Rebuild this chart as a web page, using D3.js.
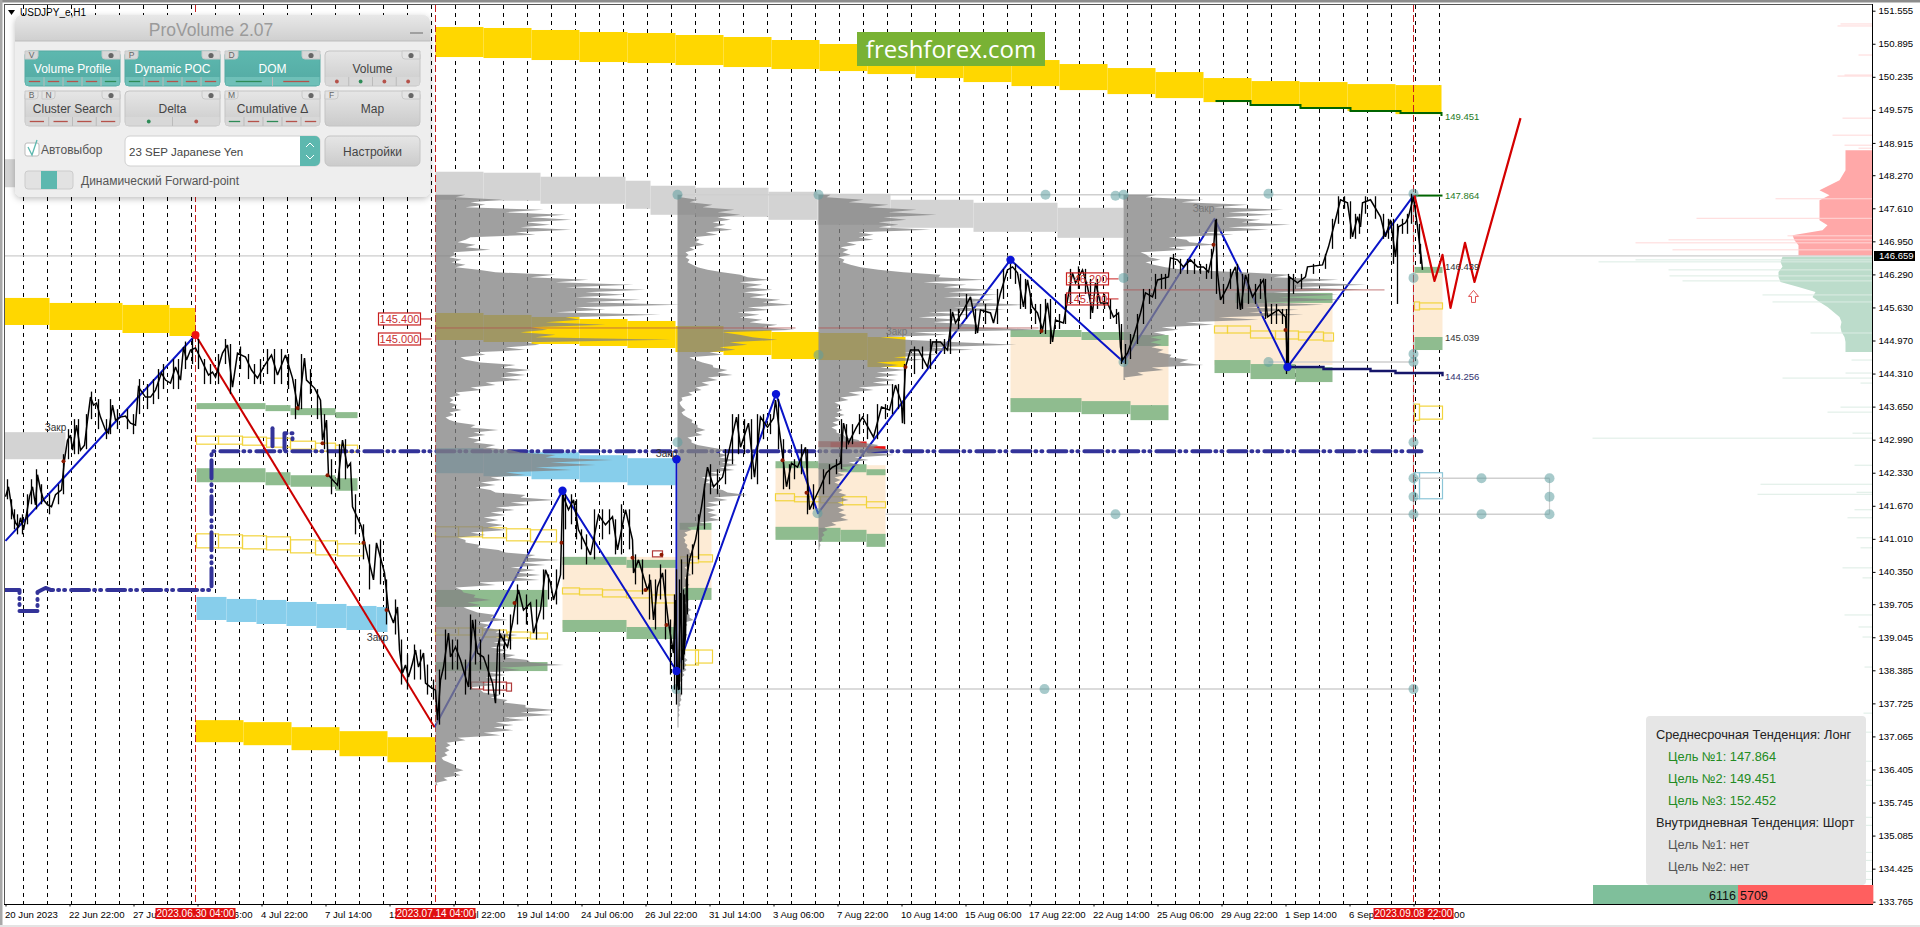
<!DOCTYPE html>
<html><head><meta charset="utf-8">
<script src="https://cdn.jsdelivr.net/npm/d3@7"></script>
<style>html,body{margin:0;background:#fff;overflow:hidden}svg{display:block;font-family:"Liberation Sans",Arial,sans-serif}</style>
</head><body><svg id="c" width="1920" height="927"></svg>
<script>
// ---------- axis data
const priceTicks=[151.555,150.895,150.235,149.575,148.915,148.270,147.610,146.950,146.290,145.630,144.970,144.310,143.650,142.990,142.330,141.670,141.010,140.350,139.705,139.045,138.385,137.725,137.065,136.405,135.745,135.085,134.425,133.765];
const timeBars=[0,64,128,192,256,320,384,448,512,576,640,704,768,832,896,960,1024,1088,1152,1216,1280,1344,1408];
const timeLabels=["20 Jun 2023","22 Jun 22:00","27 Jun 14:00","30 Jun 06:00","4 Jul 22:00","7 Jul 14:00","12 Jul 06:00","14 Jul 22:00","19 Jul 14:00","24 Jul 06:00","26 Jul 22:00","31 Jul 14:00","3 Aug 06:00","7 Aug 22:00","10 Aug 14:00","15 Aug 06:00","17 Aug 22:00","22 Aug 14:00","25 Aug 06:00","29 Aug 22:00","1 Sep 14:00","6 Sep 06:00","8 Sep 22:00"];
const markedBars=[190,430,1408];
const markedLabels=["2023.06.30 04:00","2023.07.14 04:00","2023.09.08 22:00"];
const currentPrice=146.659;
// ---------- price series (bar index, price)
const priceBars=[0,3,5,7,10,13,15,18,20,24,27,30,32,35,38,42,46,50,56,59,62,65,67,71,75,79,82,85,88,91,95,100,103,107,110,115,120,125,130,133,140,145,150,156,160,165,170,175,178,181,185,190,195,203,207,210,217,222,227,232,240,246,252,258,266,272,280,287,293,299,301,309,315,317,321,323,332,337,342,345,347,356,360,368,371,379,383,388,392,394,397,400,403,407,410,413,418,420,425,430,432,435,438,443,445,450,455,463,467,472,478,487,490,492,495,502,507,510,513,518,525,528,535,540,545,548,555,557,563,568,573,578,585,593,600,607,612,620,627,628,633,642,645,648,652,657,663,668,670,672,673,675,677,680,681,684,690,696,702,708,717,723,731,735,743,749,755,762,768,770,776,781,786,792,800,804,815,821,827,835,838,843,851,857,868,876,884,890,896,897,900,905,913,922,927,935,942,947,950,957,965,968,972,975,985,988,995,1002,1007,1012,1018,1022,1027,1032,1037,1042,1047,1050,1058,1062,1067,1070,1077,1082,1087,1090,1095,1102,1108,1113,1115,1117,1122,1128,1135,1140,1147,1152,1163,1165,1172,1178,1185,1192,1198,1203,1208,1210,1212,1215,1222,1227,1230,1235,1240,1247,1253,1258,1262,1268,1273,1280,1282,1284,1292,1300,1302,1317,1323,1330,1335,1342,1347,1352,1355,1357,1365,1375,1380,1385,1390,1393,1400,1403,1408,1412,1416,1417];
const priceVals=[141.85,142.05,141.79,141.53,141.33,141.25,141.43,141.19,141.39,141.85,142.05,141.69,142.29,141.99,141.79,141.69,141.65,141.89,141.99,142.59,142.98,143.08,142.78,143.28,142.78,142.88,143.38,143.84,143.68,143.72,143.44,143.18,143.12,143.68,143.38,143.44,143.46,143.32,143.28,144.04,143.84,143.84,143.98,144.32,144.18,144.12,144.44,144.18,144.84,144.58,144.78,144.82,144.62,144.28,144.34,144.24,144.72,144.88,144.04,144.72,144.64,144.38,144.22,144.44,144.68,144.28,144.68,144.22,143.58,144.62,144.18,144.02,143.78,142.98,143.38,142.28,142.08,142.98,142.44,142.52,141.65,141.25,140.85,140.19,140.93,140.33,139.59,139.33,139.65,138.79,138.33,138.49,138.25,138.53,138.79,138.45,138.73,138.13,138.05,137.99,137.39,138.19,138.45,139.13,138.65,138.85,138.59,138.05,139.39,138.73,138.65,138.13,137.73,138.85,139.09,138.85,139.33,139.73,139.99,139.59,139.73,139.13,139.59,140.39,140.13,139.79,140.29,141.89,141.59,141.79,141.19,140.99,140.69,141.49,141.29,141.45,140.79,141.59,140.99,140.33,140.59,139.99,140.19,139.39,140.05,140.33,139.33,138.73,139.79,138.13,137.99,139.93,138.59,139.05,140.19,140.59,140.99,141.65,142.44,142.05,142.24,142.72,143.44,142.84,143.32,142.24,143.44,143.24,143.42,143.78,142.84,142.05,142.52,142.44,142.84,141.59,142.05,142.33,142.44,142.52,143.32,142.92,143.24,143.44,143.04,143.64,143.58,144.08,143.72,143.32,144.44,144.78,144.78,144.44,144.94,144.94,144.78,145.54,145.32,145.54,145.84,145.52,145.12,145.58,145.52,145.32,145.92,146.38,146.44,146.32,145.64,146.18,145.64,145.52,145.18,145.72,144.94,145.38,145.32,145.78,146.32,146.12,146.38,146.04,145.52,146.12,145.72,145.72,145.44,145.52,144.84,144.58,144.72,145.04,145.52,145.92,145.84,146.18,146.24,146.62,146.58,146.44,146.58,146.44,146.44,146.34,146.78,147.38,146.32,145.78,146.04,146.32,146.44,145.58,146.28,145.84,146.04,146.18,145.44,145.52,145.58,145.44,144.44,146.24,146.12,146.24,146.44,146.48,146.84,147.38,147.78,147.72,147.04,147.44,147.24,147.72,147.78,147.44,147.04,147.38,146.64,147.24,147.32,147.44,147.84,147.24,146.58,146.38];
// bar ranges read between the points above
const wickBars=[2,6,9,12,17,22,26,31,36,44,53,58,63,69,73,81,86,93,101,105,112,122,128,134,142,148,153,158,168,173,180,187,193,199,205,213,220,225,235,243,249,255,262,269,276,283,290,296,305,312,319,326,334,340,350,358,364,375,381,390,396,402,409,415,422,428,434,440,447,452,460,465,470,475,483,494,499,505,512,521,531,538,543,551,558,560,566,571,576,581,589,597,604,610,616,624,630,637,644,650,655,660,665,669,671,674,676,678,679,682,687,693,699,705,712,720,727,733,739,746,752,758,765,773,778,784,789,796,802,808,818,824,831,836,841,847,854,862,872,880,887,893,899,909,917,925,931,939,945,953,961,970,980,992,998,1005,1010,1015,1020,1025,1030,1035,1040,1045,1054,1060,1065,1073,1080,1085,1092,1099,1105,1111,1116,1120,1125,1132,1138,1144,1150,1156,1160,1168,1175,1182,1189,1195,1201,1206,1211,1218,1225,1232,1237,1243,1250,1255,1260,1266,1271,1277,1281,1283,1288,1296,1308,1320,1327,1333,1339,1345,1350,1354,1360,1370,1378,1383,1388,1392,1397,1402,1406,1414,1415];
const wickHigh=[142.2,141.8,141.6,141.5,141.5,141.9,142.2,142.4,142.1,141.9,142.1,142.7,143.2,143.4,143.4,143.5,143.95,143.8,143.4,143.8,143.6,143.6,143.5,144.2,144.1,144.2,144.4,144.5,144.6,144.6,144.95,145.0,145.0,144.6,144.5,144.7,145.0,144.9,144.85,144.7,144.5,144.6,144.8,144.8,144.8,144.7,144.2,144.7,144.4,144.0,143.5,142.6,142.9,143.0,141.9,141.3,140.9,141.0,140.2,139.8,139.0,138.7,138.9,138.8,138.5,138.2,138.4,139.2,139.0,139.0,138.6,139.5,139.4,139.0,138.7,139.2,139.1,139.5,140.1,139.9,139.8,140.4,140.3,140.4,142.0,141.9,141.9,141.8,141.2,141.1,141.6,141.6,141.6,141.4,141.7,141.6,140.7,140.6,140.3,140.2,140.5,140.4,139.4,139.9,140.4,140.2,140.6,140.0,139.9,140.7,140.9,141.5,142.1,142.5,142.4,142.8,143.5,143.5,143.4,143.4,143.5,143.5,143.5,143.8,143.0,142.5,142.6,142.9,142.8,142.1,142.4,142.5,142.6,143.4,143.3,143.3,143.5,143.5,143.7,143.7,144.1,144.1,144.5,144.85,144.85,145.0,145.0,145.0,145.6,145.6,145.9,145.6,145.7,146.0,146.4,146.5,146.5,146.3,146.2,145.9,145.7,145.7,145.8,145.8,145.5,145.9,146.4,146.45,146.4,146.2,146.2,145.9,145.8,145.6,145.3,144.9,145.1,145.5,146.0,146.0,146.3,146.3,146.3,146.7,146.6,146.6,146.6,146.5,146.5,146.8,147.4,146.1,146.4,146.5,146.3,146.3,146.1,146.2,146.2,145.7,145.7,145.6,145.6,146.3,146.3,146.3,146.5,146.7,147.4,147.85,147.85,147.75,147.5,147.5,147.85,147.85,147.5,147.4,147.4,147.3,147.4,147.5,147.9,147.3,146.9];
const wickLow=[141.8,141.4,141.2,141.1,141.1,141.3,141.7,141.6,141.7,141.5,141.7,141.9,142.6,142.7,142.7,142.8,143.4,143.2,143.0,143.1,143.2,143.2,143.1,143.5,143.6,143.7,143.8,144.0,144.0,144.0,144.4,144.5,144.4,144.1,144.1,144.1,144.5,143.9,144.4,144.2,144.1,144.1,144.3,144.1,144.1,144.0,143.4,143.6,143.9,143.4,142.8,141.9,142.0,142.2,141.1,140.6,140.0,140.1,139.3,139.1,138.1,138.0,138.2,138.2,137.9,137.8,137.3,138.2,138.4,138.4,137.9,138.0,138.5,138.4,137.9,137.9,138.6,138.8,139.3,139.3,139.0,139.4,139.8,139.7,140.2,141.2,141.3,141.0,140.8,140.5,140.6,141.0,141.1,140.7,140.7,140.8,140.1,139.9,139.4,139.2,139.8,139.0,138.3,138.0,137.7,138.0,137.9,138.4,138.7,139.5,140.3,140.6,141.2,141.9,141.9,142.1,142.5,142.7,142.7,142.2,142.1,143.0,143.1,142.8,142.0,142.0,142.2,142.3,141.5,141.6,141.9,142.1,142.3,142.4,142.8,142.9,143.1,143.0,143.0,143.4,143.5,143.6,143.3,144.3,144.4,144.4,144.7,144.7,144.7,145.2,145.4,145.1,145.3,145.3,145.8,146.2,146.1,145.6,145.6,145.5,145.3,145.1,145.1,144.9,145.2,145.3,145.7,146.0,145.9,145.4,145.6,145.6,145.4,145.3,144.5,144.5,144.6,144.9,145.3,145.7,145.8,146.0,146.0,146.4,146.3,146.3,146.3,146.3,146.2,146.2,145.9,145.7,146.0,145.6,145.6,145.7,145.7,145.8,145.4,145.3,145.3,145.3,144.3,144.4,145.9,146.0,146.3,146.4,146.8,147.3,147.6,147.0,147.0,147.1,147.5,147.4,147.0,147.0,146.5,145.7,147.1,147.1,147.3,146.7,146.5];
// ---------- zigzag
const zigBlueA=[[0,140.97],[190,145.08]];
const zigRed=[[190,145.08],[429,137.25]];
const zigBlueB=[[429,137.25],[557,141.97],[671,138.37],[770.5,143.90],[812.5,141.52],[1005,146.58],[1118,144.54],[1209,147.40],[1282,144.44],[1408,147.864]];
const zigBlueC=[[671,138.37],[671,142.60]];
const forecast=[[1409,147.864],[1429,146.16],[1437,146.68],[1445,145.62],[1459.5,146.92],[1469,146.14],[1515,149.41]];
const blueDots=[[557,141.97],[671,142.60],[671,138.37],[770.5,143.90],[1005,146.58],[1282,144.44]];
const redDots=[[190,145.08]];
const smallDots=[[58,142.56],[292,143.62],[317,142.92],[322,142.28],[358,140.93],[381,139.59],[556,140.93],[509,139.73],[627,140.63],[900,144.44],[777,142.58],[801,141.93],[1036,145.16],[640,139.99],[656,140.69],[661,139.29],[1208,146.88],[1280,145.18]];
const tealDots=[[672,147.88],[813,147.88],[1040,147.88],[1110,147.86],[1118,147.88],[1263,147.90],[1408,147.90],[813,144.68],[1118,146.22],[1408,146.22],[1263,144.54],[1408,144.70],[1408,144.54],[672,142.94],[812,141.52],[1110,141.50],[671,138.01],[1039,138.01],[1408,142.94],[1408,142.22],[1476,142.22],[1544,142.22],[1408,141.85],[1544,141.85],[1408,141.50],[1476,141.50],[1544,141.50],[1408,138.01],[1118,144.54]];
// ---------- stepped bands: edges, tops, bottoms
const goldTopEdges=[430,478,526,574,622,670,718,766,814,862,910,958,1006,1054,1102,1150,1198,1246,1294,1342,1390,1436];
const goldTopHi=[151.23,151.21,151.17,151.13,151.11,151.07,151.03,150.97,150.89,150.81,150.73,150.65,150.57,150.49,150.41,150.33,150.21,150.15,150.13,150.09,150.07];
const goldTopLo=[150.63,150.61,150.57,150.53,150.51,150.47,150.43,150.39,150.35,150.29,150.21,150.13,150.05,149.97,149.89,149.81,149.73,149.67,149.61,149.55,149.49];
const goldMidEdges=[430,478,526,574,622,670,718,766,814,862,900];
const goldMidHi=[145.52,145.48,145.44,145.40,145.36,145.26,145.18,145.14,145.12,145.04];
const goldMidLo=[144.98,144.94,144.90,144.86,144.82,144.74,144.68,144.60,144.58,144.44];
const goldLeftEdges=[-1,44,117,164,190];
const goldLeftHi=[145.82,145.72,145.68,145.62];
const goldLeftLo=[145.28,145.18,145.12,145.06];
const goldLowEdges=[190,238,286,334,382,430];
const goldLowHi=[137.39,137.35,137.25,137.17,137.05];
const goldLowLo=[136.95,136.89,136.79,136.67,136.55];
const grayTopEdges=[430,478,535,620,645,690,763,812,885,968,1052,1118];
const grayTopHi=[148.34,148.32,148.24,148.16,148.06,148.02,147.94,147.90,147.78,147.72,147.62];
const grayTopLo=[147.78,147.76,147.70,147.60,147.48,147.44,147.38,147.28,147.22,147.14,147.02];
const blueLowEdges=[191,221,251,281,311,341,371,382];
const blueLowHi=[139.85,139.81,139.79,139.75,139.71,139.67,139.65];
const blueLowLo=[139.39,139.35,139.31,139.27,139.23,139.19,139.15];
const blueMidEdges=[430,478,526,574,622,670];
const blueMidHi=[142.82,142.78,142.74,142.68,142.62];
const blueMidLo=[142.32,142.26,142.20,142.14,142.08];
// ---------- zones [bar0,bar1,priceTop,priceBottom]
const grayBoxes=[[-1,190,148.59,148.03],[-1,60,143.14,142.60]];
const peachBoxes=[[557,671,140.65,139.23],[671,706,141.19,139.99],[770,880,142.48,141.09],[1005,1163,145.08,143.68],[1209,1327,145.78,144.48],[1409,1437,146.38,144.98]];
const greenBoxes=[[191,260,143.72,143.60],[260,285,143.68,143.56],[285,330,143.62,143.48],[330,352,143.54,143.42],[191,260,142.42,142.14],[260,285,142.34,142.08],[285,330,142.28,142.05],[330,352,142.22,141.97],[430,542,139.99,139.65],[430,542,138.55,138.37],[557,621,140.65,140.49],[621,671,140.59,140.43],[557,621,139.39,139.15],[621,671,139.25,139.01],[674,706,141.33,141.19],[676,706,140.03,139.79],[770,813,142.56,142.42],[813,835,142.52,142.40],[835,861,142.50,142.34],[861,880,142.40,142.28],[770,813,141.25,140.99],[813,835,141.23,140.95],[835,861,141.19,140.95],[861,880,141.11,140.85],[1005,1076,145.18,145.04],[1076,1125,145.14,144.98],[1125,1163,145.08,144.86],[1005,1076,143.82,143.54],[1076,1125,143.76,143.50],[1125,1163,143.68,143.38],[1230,1327,145.92,145.72],[1209,1245,144.58,144.32],[1245,1290,144.50,144.20],[1290,1327,144.44,144.14],[1409,1437,146.44,146.32],[1409,1437,145.04,144.78]];
const yellowBoxes=[[191,213,143.06,142.90],[213,237,143.06,142.90],[237,261,143.04,142.88],[261,285,143.02,142.84],[285,310,142.96,142.80],[310,330,142.92,142.76],[330,352,142.88,142.74],[191,213,141.11,140.83],[213,237,141.09,140.83],[237,261,141.07,140.81],[261,285,141.05,140.79],[285,310,140.99,140.73],[310,332,140.97,140.69],[332,358,140.91,140.67],[430,453,141.25,141.05],[453,477,141.25,141.05],[477,501,141.23,141.03],[501,525,141.21,140.97],[525,551,141.19,140.95],[430,453,139.23,139.09],[453,477,139.23,139.09],[477,501,139.19,139.05],[502,525,139.15,139.03],[525,542,139.13,139.01],[557,574,140.03,139.91],[574,597,140.01,139.89],[597,621,139.99,139.85],[621,646,139.97,139.83],[646,670,139.89,139.73],[673,693,138.79,138.49],[690,707,138.79,138.53],[675,693,140.65,140.53],[693,707,140.69,140.55],[770,789,141.91,141.77],[789,815,141.85,141.75],[815,837,141.85,141.73],[837,861,141.85,141.69],[861,880,141.75,141.63],[1209,1222,145.26,145.12],[1222,1245,145.26,145.12],[1245,1270,145.16,145.02],[1270,1293,145.16,145.00],[1293,1318,145.14,144.98],[1318,1328,145.12,144.96],[1409,1414,145.74,145.58],[1414,1437,145.72,145.60],[1409,1414,143.70,143.38],[1414,1437,143.66,143.40]];
const skyOutline=[[1409,1414,142.33,141.81],[1414,1437,142.33,141.81]];
const darkRedBoxes=[[466,478,138.15,138.01],[478,501,138.15,137.99],[501,506,138.13,137.97],[647,657,140.77,140.65]];
const redPale=[[813,861,142.96,142.84]];
const redSolid=[[825,861,142.94,142.84],[861,880,142.86,142.74]];
// ---------- lines
const dashDot=[[-1,139.99],[14,139.99],[14,139.57],[32,139.57],[32,139.95],[40,140.03],[45,139.99],[206,139.99],[206,142.76],[1416,142.76]];
const dashDotB=[[267,143.22],[267,142.80]];
const dashDotC=[[279,142.80],[279,143.12],[287,143.12],[287,143.00]];
const greenTargetBars=[1210,1245,1295,1345,1395,1436];
const greenTargetVals=[149.75,149.67,149.61,149.55,149.51,149.451];
const greenTarget2=[[1409,147.864],[1437,147.864]];
const navyLineBars=[1282,1318,1365,1390,1437];
const navyLineVals=[144.44,144.40,144.36,144.32,144.256];
const grayLevels=[[672,1409,147.88],[880,1544,141.50],[671,1408,138.01],[1408,1544,142.22],[1263,1408,144.54]];
const brownLevels=[[430,790,145.22],[813,1033,145.22],[1118,1379,145.98]];
const priceFlags=[145.400,145.000,146.200,145.800];
const flagBars=[373,373,1061,1061];
const flagEnds=[426,426,1113,1113];
const levelLabels=[149.451,147.864,146.439,145.039,144.256];
const levelColors=["#1f7a1f","#1f7a1f","#333","#333","#33336f"];
const closeLabelBars=[50,372,661,891,1198];
const closeLabelVals=[143.16,138.97,142.64,145.08,147.54];
// ---------- volume profiles (levels one step apart, top down)
const levelStep=0.04995;
const volStart=147.88;
const volA=[30,20,67,35,50,30,108,70,130,95,136,90,115,85,136,80,100,35,30,22,40,30,55,18,20,14,26,16,30,20,43,60,120,95,153,120,198,130,210,150,190,140,205,150,245,140,170,120,225,130,145,110,170,95,112,85,120,100,235,90,104,70,90,40,50,25,30,45,80,65,95,70,90,65,87,50,60,35,46,20,25,14,18,14,22,16,26,14,18,10,14,22,40,35,63,38,50,32,46,38,60,50,75,85,120,110,177,115,160,100,136,70,90,55,67,45,60,40,55,60,90,85,120,75,95,60,79,55,70,48,63,50,68,52,71,35,50,22,30,30,45,42,63,70,100,90,124,85,110,75,100,80,105,78,104,42,60,20,26,28,40,38,55,32,45,28,35,42,60,55,72,42,55,48,65,60,82,60,78,58,76,55,72,60,80,70,92,95,128,65,85,52,70,50,65,45,60,32,45,48,65,55,72,68,90,90,120,85,117,68,90,60,78,58,78,48,65,22,30,11,15,10,14,9,12,6,8,14,20,20,28,18,25,8,12,1,2];
const volB=[5,3,20,12,35,25,57,40,63,40,53,35,48,36,55,28,40,16,22,18,27,12,17,8,11,8,12,10,15,20,30,45,63,70,92,62,85,68,95,66,90,72,103,85,115,70,92,60,82,62,85,72,100,85,117,45,62,75,100,52,70,42,58,32,45,12,17,25,35,36,50,40,55,30,40,24,32,18,24,11,15,4,5,2,3,5,8,4,6,10,15,14,20,20,28,18,25,10,14,14,20,34,48,38,50,42,58,44,60,42,57,32,45,24,33,28,38,32,45,50,70,36,50,30,42,28,38,30,40,32,43,22,30,10,14,7,10,6,8,7,10,9,12,12,16,11,15,9,12,7,10,10,14,7,9,9,12,6,8,7,10,9,12,7,9,10,14,9,12,12,16,7,10,6,8,7,10,5,7,7,9,4,6,6,8,7,10,7,9,7,9,5,7,4,5,2,3,1,2,3,4,3,4,2,3,1,2,1,2,1,1,1,1,1];
const volC=[12,8,45,30,70,50,98,70,118,65,88,60,80,60,112,40,55,40,55,28,38,22,30,24,32,20,26,24,32,42,60,85,122,120,168,105,148,125,175,130,180,125,175,150,208,135,188,110,152,100,142,115,160,160,222,95,130,62,88,140,198,110,155,85,120,75,105,58,80,62,88,58,80,56,78,54,75,40,55,30,42,22,30,16,22,18,24,18,26,16,22,14,20,13,18,18,25,28,40,42,60,55,75,52,75,36,50,30,42,22,30,19,26,16,22,16,22,18,24,20,28,22,30,19,26,19,26,20,28,22,30,13,18,6,9,4,6,3,4,1,2,1,1];
const volD=[33,22,80,58,125,90,160,105,150,100,137,118,167,105,145,78,110,45,63,66,93,45,63,17,23,26,37,22,30,42,60,118,167,150,215,170,243,170,240,150,215,155,220,140,200,122,175,125,180,95,135,62,90,38,55,30,42,27,38,27,38,28,40,34,48,46,65,56,80,28,40,14,20,1,2];
const profileBases=[430,672,813,1118];
// ---------- depth of market
const domStep=0.0999;
const domBase=1867;
const pinkStart=148.77;
const pinkVols=[27,27,27,27,27,30,33,43,53,43,53,53,53,53,53,45,50,80,78,74,74];
const mintStart=146.64;
const mintVols=[90,92,90,94,94,92,74,57,60,53,45,39,33,31,32,31,28,27,27];
const pinkSpikes=[[151.29,32],[151.25,35],[150.67,14],[150.27,28],[150.25,35],[149.41,30],[149.07,40],[148.87,28],[148.81,14],[147.80,97],[147.41,176],[147.06,85],[146.98,204],[146.92,237],[146.78,200]];
const mintSpikes=[[146.58,237],[146.54,274],[146.38,204],[146.26,203],[146.16,190],[145.88,110],[145.74,100],[145.12,62],[144.58,21],[144.32,27],[144.22,90],[144.12,12],[143.64,32],[143.54,45],[143.02,280],[143.12,20],[142.48,18],[142.10,112],[141.90,115],[141.94,16],[141.59,18],[141.43,25],[141.03,16],[140.83,12],[140.43,30],[140.23,10],[139.49,28],[139.25,14],[139.05,10],[138.45,8],[137.53,9],[137.15,7],[136.57,25],[136.09,134],[136.19,7],[135.45,7],[135.29,7],[134.75,7],[134.59,7],[134.37,8],[134.21,10]];
const buyVolume=6116, sellVolume=5709;
// ---------- side panel text
const trendRows=["Среднесрочная Тенденция: Лонг","Цель №1: 147.864","Цель №2: 149.451","Цель №3: 152.452","Внутридневная Тенденция: Шорт","Цель №1: нет","Цель №2: нет"];
const trendKinds=[0,1,1,1,0,2,2];
// ---------- tool panel
const btnRow1=["Volume Profile","Dynamic POC","DOM","Volume"];
const btnRow2=["Cluster Search","Delta","Cumulative Δ","Map"];
const btnKeys1=[["V"],["P"],["D"],[]];
const btnKeys2=[["B","N"],[],["M"],["F"]];
const btnOn1=[1,1,1,0];
const g1="#2e8b57",r1="#b5524a";
const btnMarks1=[["d",[r1,r1,r1,r1,g1]],["d",[g1,r1,r1,r1,r1]],["d",[g1,r1]],["o",[r1,g1,r1,r1]]];
const btnMarks2=[["d",[r1,r1,r1,r1]],["o",[g1,r1]],["d",[g1,r1,g1,r1,r1]],["n",[]]];

// ---------- scales
const x=d3.scaleLinear().domain([0,1868]).range([5.5,1873.5]);
const y=d3.scaleLinear().domain([151.555,133.765]).range([10.7,901.7]);
const svg=d3.select("#c");
const clip=svg.append("defs").append("clipPath").attr("id","plot").append("rect").attr("x",5).attr("y",5).attr("width",1867).attr("height",899);
const plot=svg.append("g").attr("clip-path","url(#plot)");
const line=d3.line().x(d=>x(d[0])).y(d=>y(d[1]));
const boxes=(data,fill,stroke,sw,op)=>plot.append("g").selectAll("rect").data(data).join("rect")
 .attr("x",d=>x(d[0])).attr("width",d=>x(d[1])-x(d[0])).attr("y",d=>y(d[2])).attr("height",d=>y(d[3])-y(d[2]))
 .attr("fill",fill).attr("stroke",stroke||"none").attr("stroke-width",sw||0).attr("opacity",op==null?1:op);
const stepBand=(edges,hi,lo,fill)=>{const rows=hi.map((h,i)=>[edges[i],edges[i+1],h,lo[i]]);boxes(rows,fill);};

// day separators
const separators=d3.range(0,60).map(i=>18+24*i);
plot.append("g").selectAll("line").data(separators).join("line").attr("x1",d=>x(d)).attr("x2",d=>x(d)).attr("y1",5).attr("y2",904).attr("stroke","#000").attr("stroke-dasharray","4,4");

stepBand(goldTopEdges,goldTopHi,goldTopLo,"#FFD700");
stepBand(goldMidEdges,goldMidHi,goldMidLo,"#FFD700");
stepBand(goldLeftEdges,goldLeftHi,goldLeftLo,"#FFD700");
stepBand(goldLowEdges,goldLowHi,goldLowLo,"#FFD700");
stepBand(grayTopEdges,grayTopHi,grayTopLo,"#D3D3D3");
boxes(grayBoxes,"#D3D3D3");
stepBand(blueLowEdges,blueLowHi,blueLowLo,"#87CEEB");
stepBand(blueMidEdges,blueMidHi,blueMidLo,"#87CEEB");
boxes(peachBoxes,"#FDEBD5");
boxes(greenBoxes,"#8FBC8F");
boxes(yellowBoxes,"none","#F2D43C",1.2);
boxes(skyOutline,"none","#8CC6D8",1.2);
boxes(darkRedBoxes,"none","#B03A3A",1.2);
boxes(redPale,"#D86A6A");
boxes(redSolid,"#EE1111");

// level lines
plot.append("g").selectAll("line").data(grayLevels).join("line").attr("x1",d=>x(d[0])).attr("x2",d=>x(d[1])).attr("y1",d=>y(d[2])).attr("y2",d=>y(d[2])).attr("stroke","#CFCFCF").attr("stroke-width",1.5);
plot.append("line").attr("x1",x(1408)).attr("x2",x(1408)).attr("y1",y(147.88)).attr("y2",y(141.5)).attr("stroke","#BDBDBD").attr("stroke-width",1.2);
plot.append("line").attr("x1",x(1544)).attr("x2",x(1544)).attr("y1",y(142.22)).attr("y2",y(141.5)).attr("stroke","#CFCFCF").attr("stroke-width",1.2);
plot.append("line").attr("x1",0).attr("x2",1872).attr("y1",y(currentPrice)).attr("y2",y(currentPrice)).attr("stroke","#C0C0C0");

// red time marks
plot.append("g").selectAll("line").data(markedBars).join("line").attr("x1",d=>x(d)).attr("x2",d=>x(d)).attr("y1",5).attr("y2",904).attr("stroke","#C81E1E").attr("stroke-dasharray","7,3");

// zigzags and dash-dot, under profiles
const path=(d,stroke,w,dash,cap)=>plot.append("path").attr("d",line(d)).attr("fill","none").attr("stroke",stroke).attr("stroke-width",w).attr("stroke-dasharray",dash||null).attr("stroke-linecap",cap||null).attr("stroke-linejoin","round");
[dashDot,dashDotB,dashDotC].forEach(d=>path(d,"#333399",4,"18,5,1,5,1,6","round"));
[zigBlueA,zigBlueB,zigBlueC].forEach(d=>path(d,"#0A14C8",2));
path(zigRed,"#CC0000",2);
// stepped target lines
const stepLine=d3.line().curve(d3.curveStepAfter).x(d=>x(d[0])).y(d=>y(d[1]));
plot.append("path").attr("d",stepLine(greenTargetBars.map((b,i)=>[b,greenTargetVals[i]]))).attr("fill","none").attr("stroke","#006400").attr("stroke-width",2);
path(greenTarget2,"#006400",2);
plot.append("path").attr("d",stepLine(navyLineBars.map((b,i)=>[b,navyLineVals[i]]))).attr("fill","none").attr("stroke","#16166A").attr("stroke-width",2.4);

// volume profiles
const profArea=(vols,base)=>{
 const pts=vols.map((v,i)=>[v,volStart-levelStep*i]);
 plot.append("path").datum(pts).attr("d",d3.area().y(d=>y(d[1])).x0(x(base)).x1(d=>x(base+d[0])))
  .attr("fill","rgb(131,131,131)").attr("opacity",.765);
};
[volA,volB,volC,volD].forEach((v,i)=>profArea(v,profileBases[i]));

plot.append("g").selectAll("line").data(brownLevels).join("line").attr("x1",d=>x(d[0])).attr("x2",d=>x(d[1])).attr("y1",d=>y(d[2])).attr("y2",d=>y(d[2])).attr("stroke","#B05050").attr("opacity",.75);

// teal markers
plot.append("g").selectAll("circle").data(tealDots).join("circle").attr("cx",d=>x(d[0])).attr("cy",d=>y(d[1])).attr("r",5).attr("fill","#5F9EA0").attr("opacity",.55);

// DOM
const domArea=(vols,start,fill)=>{
 const pts=vols.map((v,i)=>[v,start-domStep*i]);
 pts.push([vols[vols.length-1],start-domStep*vols.length]);
 plot.append("path").datum(pts).attr("d",d3.area().y(d=>y(d[1])).x0(x(domBase)).x1(d=>x(domBase-d[0]))).attr("fill",fill);
};
domArea(pinkVols,pinkStart,"#FFA8A8");
domArea(mintVols,mintStart,"#BCDCCB");
plot.append("g").selectAll("line").data(pinkSpikes).join("line").attr("x1",x(domBase)).attr("x2",d=>x(domBase-d[1])).attr("y1",d=>y(d[0])).attr("y2",d=>y(d[0])).attr("stroke","#FFD8D8");
plot.append("g").selectAll("line").data(mintSpikes).join("line").attr("x1",x(domBase)).attr("x2",d=>x(domBase-d[1])).attr("y1",d=>y(d[0])).attr("y2",d=>y(d[0])).attr("stroke","#DCECE4");

// price line and bar ranges
plot.append("path").datum(priceBars.map((b,i)=>[b,priceVals[i]])).attr("d",line).attr("fill","none").attr("stroke","#000").attr("stroke-width",1.5).attr("stroke-linejoin","miter").attr("stroke-miterlimit",3);
plot.append("g").selectAll("line").data(wickBars).join("line").attr("x1",d=>x(d)).attr("x2",d=>x(d)).attr("y1",(d,i)=>y(wickHigh[i])).attr("y2",(d,i)=>y(wickLow[i])).attr("stroke","#000").attr("stroke-width",1.3);

path(forecast,"#D40000",2.2);
plot.append("path").attr("transform",`translate(${x(1468)},${y(145.85)})`).attr("d","M0,-6L5,0L2,0L2,6L-2,6L-2,0L-5,0Z").attr("fill","#fff").attr("stroke","#E05050");

plot.append("g").selectAll("circle").data(smallDots).join("circle").attr("cx",d=>x(d[0])).attr("cy",d=>y(d[1])).attr("r",2).attr("fill","#8B1A00");
plot.append("g").selectAll("circle").data(blueDots).join("circle").attr("cx",d=>x(d[0])).attr("cy",d=>y(d[1])).attr("r",4.2).attr("fill","#0A14D8");
plot.append("g").selectAll("circle").data(redDots).join("circle").attr("cx",d=>x(d[0])).attr("cy",d=>y(d[1])).attr("r",4).attr("fill","#EE1111");

// flags
const flags=plot.append("g").selectAll("g").data(priceFlags).join("g");
flags.append("line").attr("x1",(d,i)=>x(flagBars[i]+40)).attr("x2",(d,i)=>x(flagEnds[i])).attr("y1",d=>y(d)).attr("y2",d=>y(d)).attr("stroke","#C81E1E");
flags.append("rect").attr("x",(d,i)=>x(flagBars[i])).attr("width",42).attr("y",d=>y(d)-6).attr("height",12).attr("fill",(d,i)=>i<2?"#fff":"none").attr("stroke","#C81E1E").attr("stroke-width",1.2);
flags.append("text").attr("x",(d,i)=>x(flagBars[i])+21).attr("y",d=>y(d)+4).attr("text-anchor","middle").attr("font-size",11).attr("fill","#C83232").text(d=>d.toFixed(3));

// level labels
plot.append("g").selectAll("text").data(levelLabels).join("text").attr("x",1445).attr("y",d=>y(d)+3.5).attr("font-size",9.5).attr("fill",(d,i)=>levelColors[i]).text(d=>d.toFixed(3));
plot.append("g").selectAll("text").data(closeLabelBars).join("text").attr("x",d=>x(d)).attr("y",(d,i)=>y(closeLabelVals[i])).attr("text-anchor","middle").attr("font-size",10).attr("fill",(d,i)=>i>2?"#777":"#333").text("Закр");

// logo
svg.append("rect").attr("x",857).attr("y",32).attr("width",188).attr("height",34).attr("fill","#79B234");
svg.append("text").attr("x",951).attr("y",58).attr("text-anchor","middle").attr("font-size",24).attr("fill","#fff").attr("font-family","'Open Sans','Liberation Sans',sans-serif").text("freshforex.com");

// frame
svg.append("rect").attr("x",0).attr("y",0).attr("width",1920).attr("height",2.5).attr("fill","#8C8C8C");
svg.append("rect").attr("x",0).attr("y",0).attr("width",2.5).attr("height",927).attr("fill","#A8A8A8");
svg.append("rect").attr("x",0).attr("y",925).attr("width",1920).attr("height",2).attr("fill","#E4E4E4");
svg.append("line").attr("x1",4.5).attr("x2",4.5).attr("y1",4).attr("y2",905).attr("stroke","#555");
svg.append("line").attr("x1",4).attr("x2",1873).attr("y1",4.5).attr("y2",4.5).attr("stroke","#555");

// axes
const yAxis=d3.axisRight(y).tickValues(priceTicks).tickSize(3).tickPadding(3).tickFormat(d=>d.toFixed(3));
const gy=svg.append("g").attr("transform","translate(1872.5,0)").call(yAxis);
gy.selectAll("text").attr("font-size",9.6).attr("font-family","'Liberation Sans'").attr("fill","#000");
gy.select(".domain").attr("stroke","#000").attr("d","M0,4V905");
const xAxis=d3.axisBottom(x).tickValues(timeBars).tickSize(2).tickPadding(5).tickFormat((d,i)=>timeLabels[i]);
const gx=svg.append("g").attr("transform","translate(0,904.5)").call(xAxis);
gx.selectAll("text").attr("font-size",9.6).attr("font-family","'Liberation Sans'").attr("text-anchor","start").attr("dx",-1).attr("fill","#000");
gx.select(".domain").attr("stroke","#000").attr("d","M4,0H1873");
svg.append("rect").attr("x",1874).attr("y",251).attr("width",41).attr("height",10).attr("fill","#000");
svg.append("text").attr("x",1879).attr("y",y(currentPrice)+3.5).attr("font-size",9.6).attr("fill","#fff").text(currentPrice.toFixed(3));

// marked dates
const mk=svg.append("g").selectAll("g").data(markedBars).join("g");
mk.append("rect").attr("x",d=>x(d)-40).attr("y",908).attr("width",80).attr("height",11).attr("fill","#E01010");
mk.append("text").attr("x",d=>x(d)).attr("y",917).attr("text-anchor","middle").attr("font-size",10).attr("fill","#fff").text((d,i)=>markedLabels[i]);

// volume bar & trend panel
const vol=d3.scaleLinear().domain([0,6116]).range([0,145]);
svg.append("rect").attr("x",1738-vol(buyVolume)).attr("y",885).attr("width",vol(buyVolume)).attr("height",19).attr("fill","#7FBF9B");
svg.append("rect").attr("x",1738).attr("y",885).attr("width",vol(sellVolume)).attr("height",19).attr("fill","#FF5F5F");
svg.append("text").attr("x",1736).attr("y",900).attr("text-anchor","end").attr("font-size",12.5).attr("fill","#111").text(buyVolume);
svg.append("text").attr("x",1740).attr("y",900).attr("font-size",12.5).attr("fill","#111").text(sellVolume);
svg.append("rect").attr("x",1646).attr("y",716).attr("width",220).attr("height",169).attr("rx",4).attr("fill","#E6E6E6");
svg.append("g").selectAll("text").data(trendRows).join("text").attr("x",(d,i)=>trendKinds[i]?1668:1656).attr("y",(d,i)=>738.5+22*i).attr("font-size",12.8).attr("fill",(d,i)=>["#222","#228B22","#555"][trendKinds[i]]).text(d=>d);

// tool panel
const defs=svg.select("defs");
const grad=(id,a,b)=>{const g=defs.append("linearGradient").attr("id",id).attr("x1",0).attr("x2",0).attr("y1",0).attr("y2",1);g.append("stop").attr("offset",0).attr("stop-color",a);g.append("stop").attr("offset",1).attr("stop-color",b);};
grad("tb","#E8E8E8","#CFCFCF");grad("gb","#E6E6E6","#CBCBCB");grad("tl","#5DB8AF","#54AAA3");
const fl=defs.append("filter").attr("id","sh").attr("x","-5%").attr("y","-5%").attr("width","110%").attr("height","115%");
fl.append("feDropShadow").attr("dx",0).attr("dy",2).attr("stdDeviation",3).attr("flood-color","#000").attr("flood-opacity",.25);
const P=svg.append("g");
P.append("rect").attr("x",15).attr("y",15).attr("width",415).attr("height",182).attr("rx",7).attr("fill","#EEEEEE").attr("filter","url(#sh)");
P.append("path").attr("d","M15,41V22a7,7 0 0 1 7,-7H423a7,7 0 0 1 7,7V41Z").attr("fill","url(#tb)");
P.append("line").attr("x1",15).attr("x2",430).attr("y1",41).attr("y2",41).attr("stroke","#BDBDBD");
P.append("text").attr("x",211).attr("y",35.5).attr("text-anchor","middle").attr("font-size",17.5).attr("fill","#9A9A9A").text("ProVolume 2.07");
P.append("rect").attr("x",410).attr("y",32).attr("width",13).attr("height",2).attr("fill","#A0A0A0");
const btnX=[25,125,225,325];
function button(label,bx,by,on,keys,marks){
 const h=35,w=95;
 const g=P.append("g").attr("transform",`translate(${bx},${by})`);
 g.append("rect").attr("width",w).attr("height",h).attr("rx",4).attr("fill",on?"url(#tl)":"url(#gb)").attr("stroke",on?"#55A9A2":"#C4C4C4");
 let kx=0;
 keys.forEach(k=>{g.append("path").attr("d",`M${kx},0H${kx+13}V5a3,3 0 0 1 -3,3H${kx}Z`).attr("fill",on?"#D8D8D8":"#E4E4E4").attr("stroke","#C8C8C8");
  g.append("text").attr("x",kx+6.5).attr("y",7).attr("text-anchor","middle").attr("font-size",8.5).attr("fill","#666").text(k);kx+=17;});
 g.append("path").attr("d",`M${w-18},0H${w}V8H${w-15}a3,3 0 0 1 -3,-3Z`).attr("fill",on?"#D8D8D8":"#E4E4E4").attr("stroke","#C8C8C8");
 g.append("circle").attr("cx",w-9).attr("cy",4.5).attr("r",2.6).attr("fill","#666");
 g.append("text").attr("x",w/2).attr("y",22).attr("text-anchor","middle").attr("font-size",12).attr("fill",on?"#fff":"#444").text(label);
 const [kind,cols]=marks;
 if(kind!=="n"){
  g.append("rect").attr("x",.5).attr("y",h-9).attr("width",w-1).attr("height",8.5).attr("fill",on?"#6FC0B8":"#D8D8D8");
  cols.forEach((c,i)=>{const cw=w/cols.length,cx=cw*(i+.5);
   if(kind==="d")g.append("line").attr("x1",cx-Math.min(cw*.3,13)).attr("x2",cx+Math.min(cw*.3,13)).attr("y1",h-4.5).attr("y2",h-4.5).attr("stroke",c).attr("stroke-width",1.3);
   else g.append("circle").attr("cx",cx).attr("cy",h-4.5).attr("r",1.9).attr("fill",c);
   if(i)g.append("line").attr("x1",cw*i).attr("x2",cw*i).attr("y1",h-9).attr("y2",h).attr("stroke","#BBB");});
 }
}
btnRow1.forEach((t,i)=>button(t,btnX[i],51,btnOn1[i],btnKeys1[i],btnMarks1[i]));
btnRow2.forEach((t,i)=>button(t,btnX[i],91,0,btnKeys2[i],btnMarks2[i]));
P.append("rect").attr("x",25).attr("y",143).attr("width",14).attr("height",13).attr("rx",2).attr("fill","#fff").attr("stroke","#BBB");
P.append("path").attr("d","M28,147L32,155L37,140").attr("fill","none").attr("stroke","#5DB8AF").attr("stroke-width",1.3);
P.append("text").attr("x",41).attr("y",154).attr("font-size",12).attr("fill","#555").text("Автовыбор");
P.append("rect").attr("x",125).attr("y",136).attr("width",195).attr("height",30).attr("rx",5).attr("fill","#fff").attr("stroke","#D0D0D0");
P.append("path").attr("d","M300,136H315a5,5 0 0 1 5,5V161a5,5 0 0 1 -5,5H300Z").attr("fill","#5DB8AF");
P.append("path").attr("d","M306,147L310,143L314,147M306,155L310,159L314,155").attr("fill","none").attr("stroke","#fff");
P.append("text").attr("x",129).attr("y",156).attr("font-size",11.5).attr("fill","#444").text("23 SEP Japanese Yen");
P.append("rect").attr("x",325).attr("y",136).attr("width",95).attr("height",30).attr("rx",5).attr("fill","url(#gb)").attr("stroke","#C4C4C4");
P.append("text").attr("x",372.5).attr("y",156).attr("text-anchor","middle").attr("font-size",12).attr("fill","#444").text("Настройки");
P.append("rect").attr("x",25).attr("y",171).attr("width",48).attr("height",18).attr("rx",3).attr("fill","#E2E2E2").attr("stroke","#CCC");
P.append("rect").attr("x",41).attr("y",171).attr("width",16).attr("height",18).attr("fill","#5DB8AF");
P.append("text").attr("x",81).attr("y",185).attr("font-size",12).attr("fill","#555").text("Динамический Forward-point");

// ticker, above the panel edge
svg.append("path").attr("d","M8,10L15,10L11.5,15Z").attr("fill","#000");
svg.append("text").attr("x",20).attr("y",16).attr("font-size",10).attr("fill","#000").text("USDJPY_e,H1");
</script></body></html>
